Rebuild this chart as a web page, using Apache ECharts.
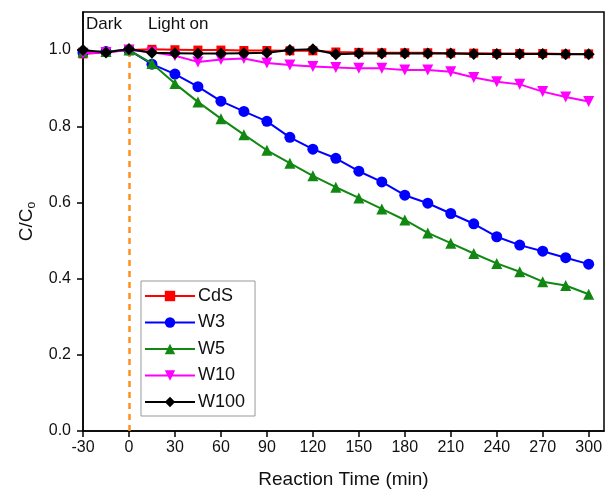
<!DOCTYPE html>
<html><head><meta charset="utf-8">
<script src="https://cdn.jsdelivr.net/npm/echarts@6/dist/echarts.min.js"></script>
<style>html,body{margin:0;padding:0;background:#fff}#c{width:606px;height:494px}</style>
</head><body><div id="c"></div>
<script>
const times = [-30,-15,0,15,30,45,60,75,90,105,120,135,150,165,180,195,210,225,240,255,270,285,300];
const xTicks = [-30,0,30,60,90,120,150,180,210,240,270,300];
const yTicks = [0.0,0.2,0.4,0.6,0.8,1.0];
const cds  = [0.990,0.994,1.000,1.002,1.001,1.000,1.000,0.999,0.999,0.998,0.998,0.995,0.994,0.993,0.993,0.993,0.992,0.992,0.991,0.991,0.991,0.990,0.990];
const w3   = [0.994,0.996,1.000,0.963,0.937,0.904,0.866,0.839,0.813,0.771,0.740,0.716,0.682,0.654,0.619,0.598,0.571,0.544,0.510,0.488,0.472,0.455,0.438];
const w5   = [0.995,0.996,1.000,0.965,0.912,0.864,0.820,0.778,0.737,0.703,0.670,0.640,0.612,0.583,0.554,0.520,0.493,0.466,0.440,0.418,0.392,0.382,0.359];
const w10  = [0.992,0.994,1.000,0.994,0.985,0.969,0.975,0.978,0.966,0.961,0.957,0.954,0.952,0.952,0.948,0.948,0.943,0.928,0.917,0.910,0.891,0.877,0.865];
const w100 = [1.000,0.994,1.003,0.993,0.992,0.991,0.991,0.992,0.993,1.000,1.002,0.989,0.991,0.991,0.991,0.991,0.991,0.990,0.990,0.990,0.990,0.989,0.989];
const names = ['CdS','W3','W5','W10','W100'];
const colors = ['#ff0000','#0000ff','#118811','#ff00ff','#000000'];
const symbols = ['rect','circle','triangle','path://M0,0L10,0L5,10Z','diamond'];
const sizes = [9,11,11,11,12];
const vals = [cds,w3,w5,w10,w100];

const chart = echarts.init(document.getElementById('c'));
const font = 'Liberation Sans, Arial, sans-serif';
const series = names.map((n,i)=>({
  name:n, type:'line', data: times.map((t,j)=>[t,vals[i][j]]),
  symbol: symbols[i], symbolSize: sizes[i], showAllSymbol:true,
  lineStyle:{color:colors[i],width:2}, itemStyle:{color:colors[i]},
  z: 3+i, animation:false
}));
series[0].markLine = {
  silent:true, symbol:'none', animation:false, label:{show:false},
  lineStyle:{color:'#ff9020',type:[6,5],width:2.5},
  data:[[{coord:[0,0]},{coord:[0,1]}]]
};
chart.setOption({
  animation:false,
  backgroundColor:'#fff',
  grid:{left:83,right:2,top:12,bottom:63,show:true,borderColor:'#000',borderWidth:1.5,backgroundColor:'transparent'},
  xAxis:{type:'value',min:-30,max:310,interval:30,
    name:'Reaction Time (min)',nameLocation:'middle',nameGap:39,
    nameTextStyle:{fontFamily:font,fontSize:19,color:'#111'},
    axisLine:{onZero:false,lineStyle:{color:'#000',width:1.5}},
    axisTick:{show:true,length:6,lineStyle:{color:'#000',width:1.5}},
    splitLine:{show:false},
    axisLabel:{fontFamily:font,fontSize:16,color:'#111',margin:9,showMaxLabel:false,
      formatter:v=> xTicks.includes(v)? String(v):''}
  },
  yAxis:{type:'value',min:0,max:1.1,interval:0.2,
    name:'{a|C/C}{b|o}',nameLocation:'middle',nameGap:43,nameRotate:90,
    nameTextStyle:{fontFamily:font,color:'#111',rich:{a:{fontSize:19,fontFamily:font,color:'#111'},b:{fontSize:12,fontFamily:font,color:'#111',padding:[10,0,0,0]}}},
    axisLine:{onZero:false,lineStyle:{color:'#000',width:1.5}},
    axisTick:{show:true,length:6,lineStyle:{color:'#000',width:1.5}},
    splitLine:{show:false},
    axisLabel:{fontFamily:font,fontSize:16,color:'#111',margin:12,showMaxLabel:false,
      formatter:v=>{const r=Math.round(v*10)/10; return yTicks.some(t=>Math.abs(t-v)<1e-6)? r.toFixed(1):'';}}
  },
  legend:{show:true,orient:'vertical',left:141,top:281,data:names,
    itemWidth:50,itemHeight:13,itemGap:8.5,
    borderColor:'#999',borderWidth:1,padding:[6,10,5,3],
    textStyle:{fontFamily:font,fontSize:18,lineHeight:18,color:'#111',padding:[0,0,0,-2]}},
  graphic:[
    {type:'text',left:86,top:16,style:{text:'Dark',font:'17px '+font,fill:'#111'}},
    {type:'text',left:148,top:16,style:{text:'Light on',font:'17px '+font,fill:'#111'}}
  ],
  series:series
});
</script></body></html>
